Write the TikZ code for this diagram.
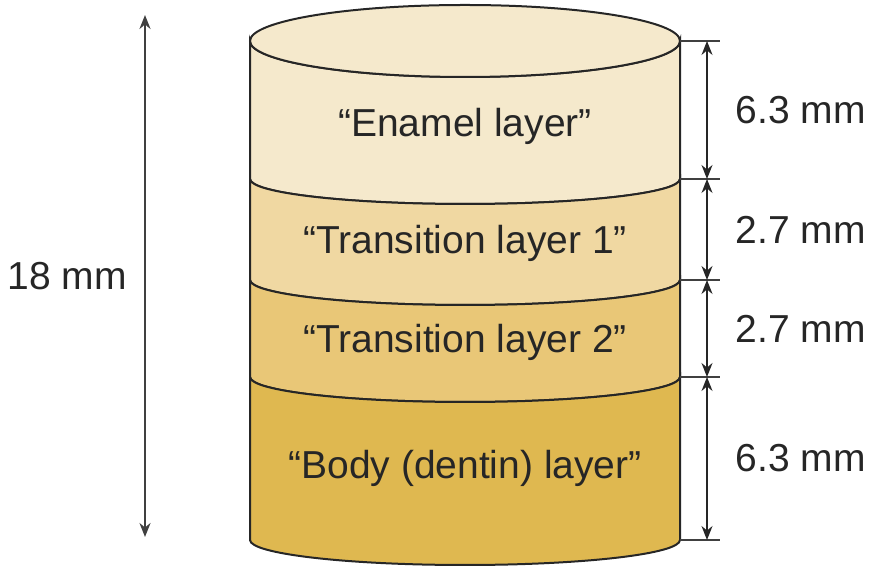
\documentclass[tikz,border=0pt]{standalone}
\usepackage{fontspec}
\setmainfont{Liberation Sans}
\usetikzlibrary{arrows.meta, calc}
\tikzset{>={Stealth[length=7pt, width=5.5pt]}}
\definecolor{enamel}{HTML}{F5E9CC}
\definecolor{transA}{HTML}{F0D8A2}
\definecolor{transB}{HTML}{E9C777}
\definecolor{body}{HTML}{DFB850}
\tikzset{
  layer/.style = {draw=black!85, line width=1pt},
  txt/.style = {font=\fontsize{19.5}{23}\selectfont, text=black!85, inner sep=0pt},
  tick/.style = {draw=black!75, line width=0.6pt},
  dimline/.style = {draw=black!85, line width=0.7pt}
}

\begin{document}
\begin{tikzpicture}[x=0.5pt, y=0.5pt]
    \useasboundingbox (0,0) rectangle (873,572);
    % the four layers of the cylinder
    \foreach \t/\b/\c/\r in {531/393/enamel/36, 393/292/transA/25, 292/195/transB/25, 195/32/body/25}
        \draw [layer, fill=\c] (250,\t) arc [start angle=180, end angle=360, x radius=215, y radius=\r]
            -- (680,\b) arc [start angle=0, end angle=-180, x radius=215, y radius=25] -- cycle;
    \draw [layer, fill=enamel] (465,531) ellipse [x radius=215, y radius=36];
    \node [txt] (enamel) at (465,446) {“Enamel layer”};
    \node [txt] (trans1) at (465,329) {“Transition layer 1”};
    \node [txt] (trans2) at (465,230) {“Transition layer 2”};
    \node [txt] (dentin) at (465,104) {“Body (dentin) layer”};
    % thickness of each layer
    \foreach \n/\y in {a/531, b/393, c/292, d/195, e/32} {
        \coordinate (e\n) at (680,\y);
        \coordinate (m\n) at (707,\y);
        \coordinate (t\n) at (720,\y);
        \draw [tick] (e\n) -- (t\n);
    }
    \draw [dimline, <->] (ma) -- (mb) node [txt, midway, right=14pt] (da) {6.3 mm};
    \draw [dimline, <->] (mb) -- (mc) node [txt, midway, right=14pt] (db) {2.7 mm};
    \draw [dimline, <->] (mc) -- (md) node [txt, midway, right=14pt] (dc) {2.7 mm};
    \draw [dimline, <->] (md) -- (me) node [txt, midway, right=14pt] (dd) {6.3 mm};
    % total height
    \coordinate (hTop) at (145,557);
    \coordinate (hBot) at (145,35);
    \draw [dimline, line width=1pt, draw=black!75, <->] (hTop) -- (hBot) node [txt, midway, left=8.5pt] (total) {18 mm};
\end{tikzpicture}
\end{document}
